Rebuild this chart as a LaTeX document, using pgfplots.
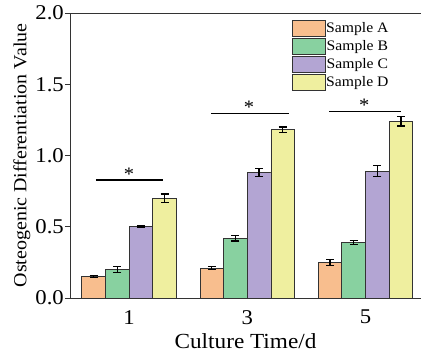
\documentclass[border=0pt]{standalone}
\usepackage{pgfplots}
\pgfplotsset{compat=1.18}
\usepackage{fontspec}
\setmainfont[FakeStretch=1.08]{Liberation Serif}
\definecolor{cA}{HTML}{F8BE8E}
\definecolor{cB}{HTML}{88D1A0}
\definecolor{cC}{HTML}{B3A5D3}
\definecolor{cD}{HTML}{EFEF9F}
\definecolor{edge}{HTML}{333333}
\begin{document}
\begin{tikzpicture}[x=1pt,y=1pt]
\begin{axis}[
  at={(0,0)}, anchor=south west,
  scale only axis,
  width=351pt, height=285pt,
  xmin=0, xmax=5.94,
  ymin=0, ymax=2.0,
  axis y line*=left,
  axis x line*=box,
  axis line style={draw=black!80, line width=0.9pt},
  xtick={1,3,5},
  xtick style={draw=none},
  ytick={0,0.5,1.0,1.5,2.0},
  /pgf/number format/assume math mode=true,
  tick label style={font=\fontsize{21}{22}\selectfont},
  yticklabel style={inner sep=1pt, /pgf/number format/.cd,fixed,fixed zerofill,precision=1},
  xticklabel style={inner sep=1pt, yshift=-6pt},
  ytick style={draw=black!80, line width=0.9pt},
  tick align=outside,
  major tick length=5pt,
  xlabel={Culture Time/d},
  ylabel={Osteogenic Differentiation Value},
  xlabel style={font=\fontsize{21.5}{23}\selectfont, inner sep=0pt, yshift=-8pt},
  ylabel style={font=\fontsize{18.5}{20}\selectfont, inner sep=0pt, yshift=4pt},
  ybar, bar width=0.4,
  legend style={draw=none, fill=none, inner sep=0pt, at={(0.632,0.975)}, anchor=north west,
    font=\fontsize{14.5}{14.5}\selectfont, row sep=1.2pt,
    nodes={inner sep=0.4pt},
    /tikz/every even column/.append style={column sep=5pt}},
  legend image code/.code={\draw[#1, draw=edge, line width=0.8pt] (0pt,-8pt) rectangle (33pt,8pt);},
  error bars/y dir=both, error bars/y explicit,
  error bars/error bar style={black, line width=1.2pt},
  error bars/error mark options={black, line width=1.2pt, mark size=4pt, rotate=90},
]
\addplot+[bar shift=-0.6, fill=cA, draw=edge, line width=0.8pt] coordinates {(1,0.15) +- (0,0.008) (3,0.21) +- (0,0.012) (5,0.25) +- (0,0.02)};
\addplot+[bar shift=-0.2, fill=cB, draw=edge, line width=0.8pt] coordinates {(1,0.20) +- (0,0.02) (3,0.42) +- (0,0.02) (5,0.39) +- (0,0.015)};
\addplot+[bar shift=0.2, fill=cC, draw=edge, line width=0.8pt] coordinates {(1,0.50) +- (0,0.005) (3,0.88) +- (0,0.03) (5,0.89) +- (0,0.04)};
\addplot+[bar shift=0.6, fill=cD, draw=edge, line width=0.8pt] coordinates {(1,0.70) +- (0,0.03) (3,1.18) +- (0,0.02) (5,1.24) +- (0,0.033)};
\legend{Sample A, Sample B, Sample C, Sample D}
\addplot[sharp plot, no markers, black, line width=1.4pt, forget plot] coordinates {(0.44,0.828) (1.566,0.828)};
\addplot[sharp plot, no markers, black, line width=1.4pt, forget plot] coordinates {(2.39,1.296) (3.71,1.296)};
\addplot[sharp plot, no markers, black, line width=1.4pt, forget plot] coordinates {(4.385,1.307) (5.597,1.307)};
\node[font=\fontsize{19}{19}\selectfont] at (axis cs:1.0,0.87) {*};
\node[font=\fontsize{19}{19}\selectfont] at (axis cs:3.03,1.34) {*};
\node[font=\fontsize{19}{19}\selectfont] at (axis cs:4.98,1.35) {*};
\end{axis}
\pgfresetboundingbox
\useasboundingbox (-70pt,-57pt) rectangle (351pt,298pt);
\end{tikzpicture}
\end{document}
